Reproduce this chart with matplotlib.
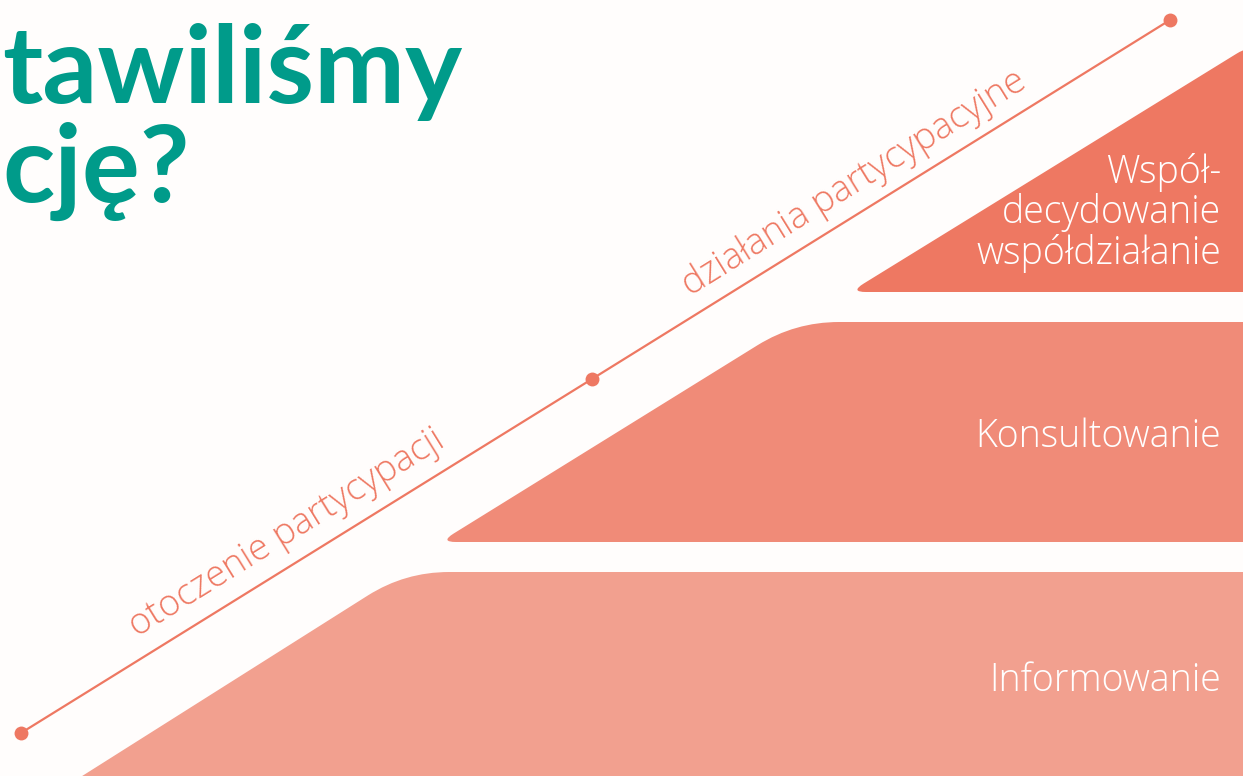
import numpy as np
import matplotlib
matplotlib.use("Agg")
import matplotlib.pyplot as plt
from matplotlib.path import Path
from matplotlib.patches import PathPatch

# levels of participation, bottom to top
levels = ["Informowanie", "Konsultowanie", "Współ-\ndecydowanie\nwspółdziałanie"]
level_colors = ["#F2A08F", "#F08B78", "#EE7862"]
axis_labels = ["otoczenie partycypacji", "działania partycypacyjne"]
title_lines = ["tawiliśmy", "cję?"]

BG = "#FFFDFC"
TEAL = "#009B8A"
LINE = "#EE7862"
W, H = 1243, 776


def rounded_path(pts, radii):
    """closed polygon with corners rounded by quadratic curves"""
    pts = np.asarray(pts, float)
    n = len(pts)
    verts, codes = [], []
    for i in range(n):
        p = pts[i]
        a = pts[i - 1]
        b = pts[(i + 1) % n]
        r = radii[i]
        ua = (a - p) / np.linalg.norm(a - p)
        ub = (b - p) / np.linalg.norm(b - p)
        s = p + ua * r
        e = p + ub * r
        verts.append(s)
        codes.append(Path.MOVETO if i == 0 else Path.LINETO)
        verts += [p, e]
        codes += [Path.CURVE3, Path.CURVE3]
    verts.append(verts[0])
    codes.append(Path.CLOSEPOLY)
    return Path(verts, codes)


fig = plt.figure(figsize=(W / 100, H / 100), dpi=100, facecolor=BG)
ax = fig.add_axes([0, 0, 1, 1])
ax.set_xlim(0, W)
ax.set_ylim(H, 0)
ax.set_facecolor(BG)
ax.axis("off")

# the three stacked steps
shapes = [
    ([(60, 790), (405, 572), (1262, 572), (1262, 800)], [16, 44, 14, 14]),
    ([(440, 542), (795, 322), (1262, 322), (1262, 542)], [16, 44, 16, 16]),
    ([(850, 292), (1262, 38), (1262, 292)], [16, 30, 16]),
]
text_y = [681, 437, 213]
for (pts, rad), col, lab, ty in zip(shapes, level_colors, levels, text_y):
    ax.add_patch(PathPatch(rounded_path(pts, rad), facecolor=col, edgecolor="none"))
    ax.text(1221, ty, lab, color="white", fontsize=27, family="Open Sans",
            fontweight="light", ha="right", va="center",
            multialignment="right", linespacing=1.05)

# diagonal axis with dots
line_x = [21, 592, 1170]
line_y = [733, 379, 20]
ax.plot(line_x, line_y, color=LINE, lw=1.6, solid_capstyle="round")
ax.plot(line_x, line_y, "o", color=LINE, ms=10, mec="none")

ang = np.degrees(np.arctan2(line_y[0] - line_y[2], line_x[2] - line_x[0]))
ax.text(287, 533, axis_labels[0], color=LINE, fontsize=26.5, family="Open Sans",
        fontweight="light", rotation=ang, rotation_mode="anchor",
        ha="center", va="center")
ax.text(854, 183, axis_labels[1], color=LINE, fontsize=26.5, family="Open Sans",
        fontweight="light", rotation=ang, rotation_mode="anchor",
        ha="center", va="center")

# title (cut at left edge)
ax.text(2, 103, title_lines[0], color=TEAL, fontsize=78, family="Lato",
        fontweight="bold", ha="left", va="baseline")
ax.text(2, 202, title_lines[1], color=TEAL, fontsize=78, family="Lato",
        fontweight="bold", ha="left", va="baseline")

fig.savefig("out.png", dpi=100, facecolor=BG)
